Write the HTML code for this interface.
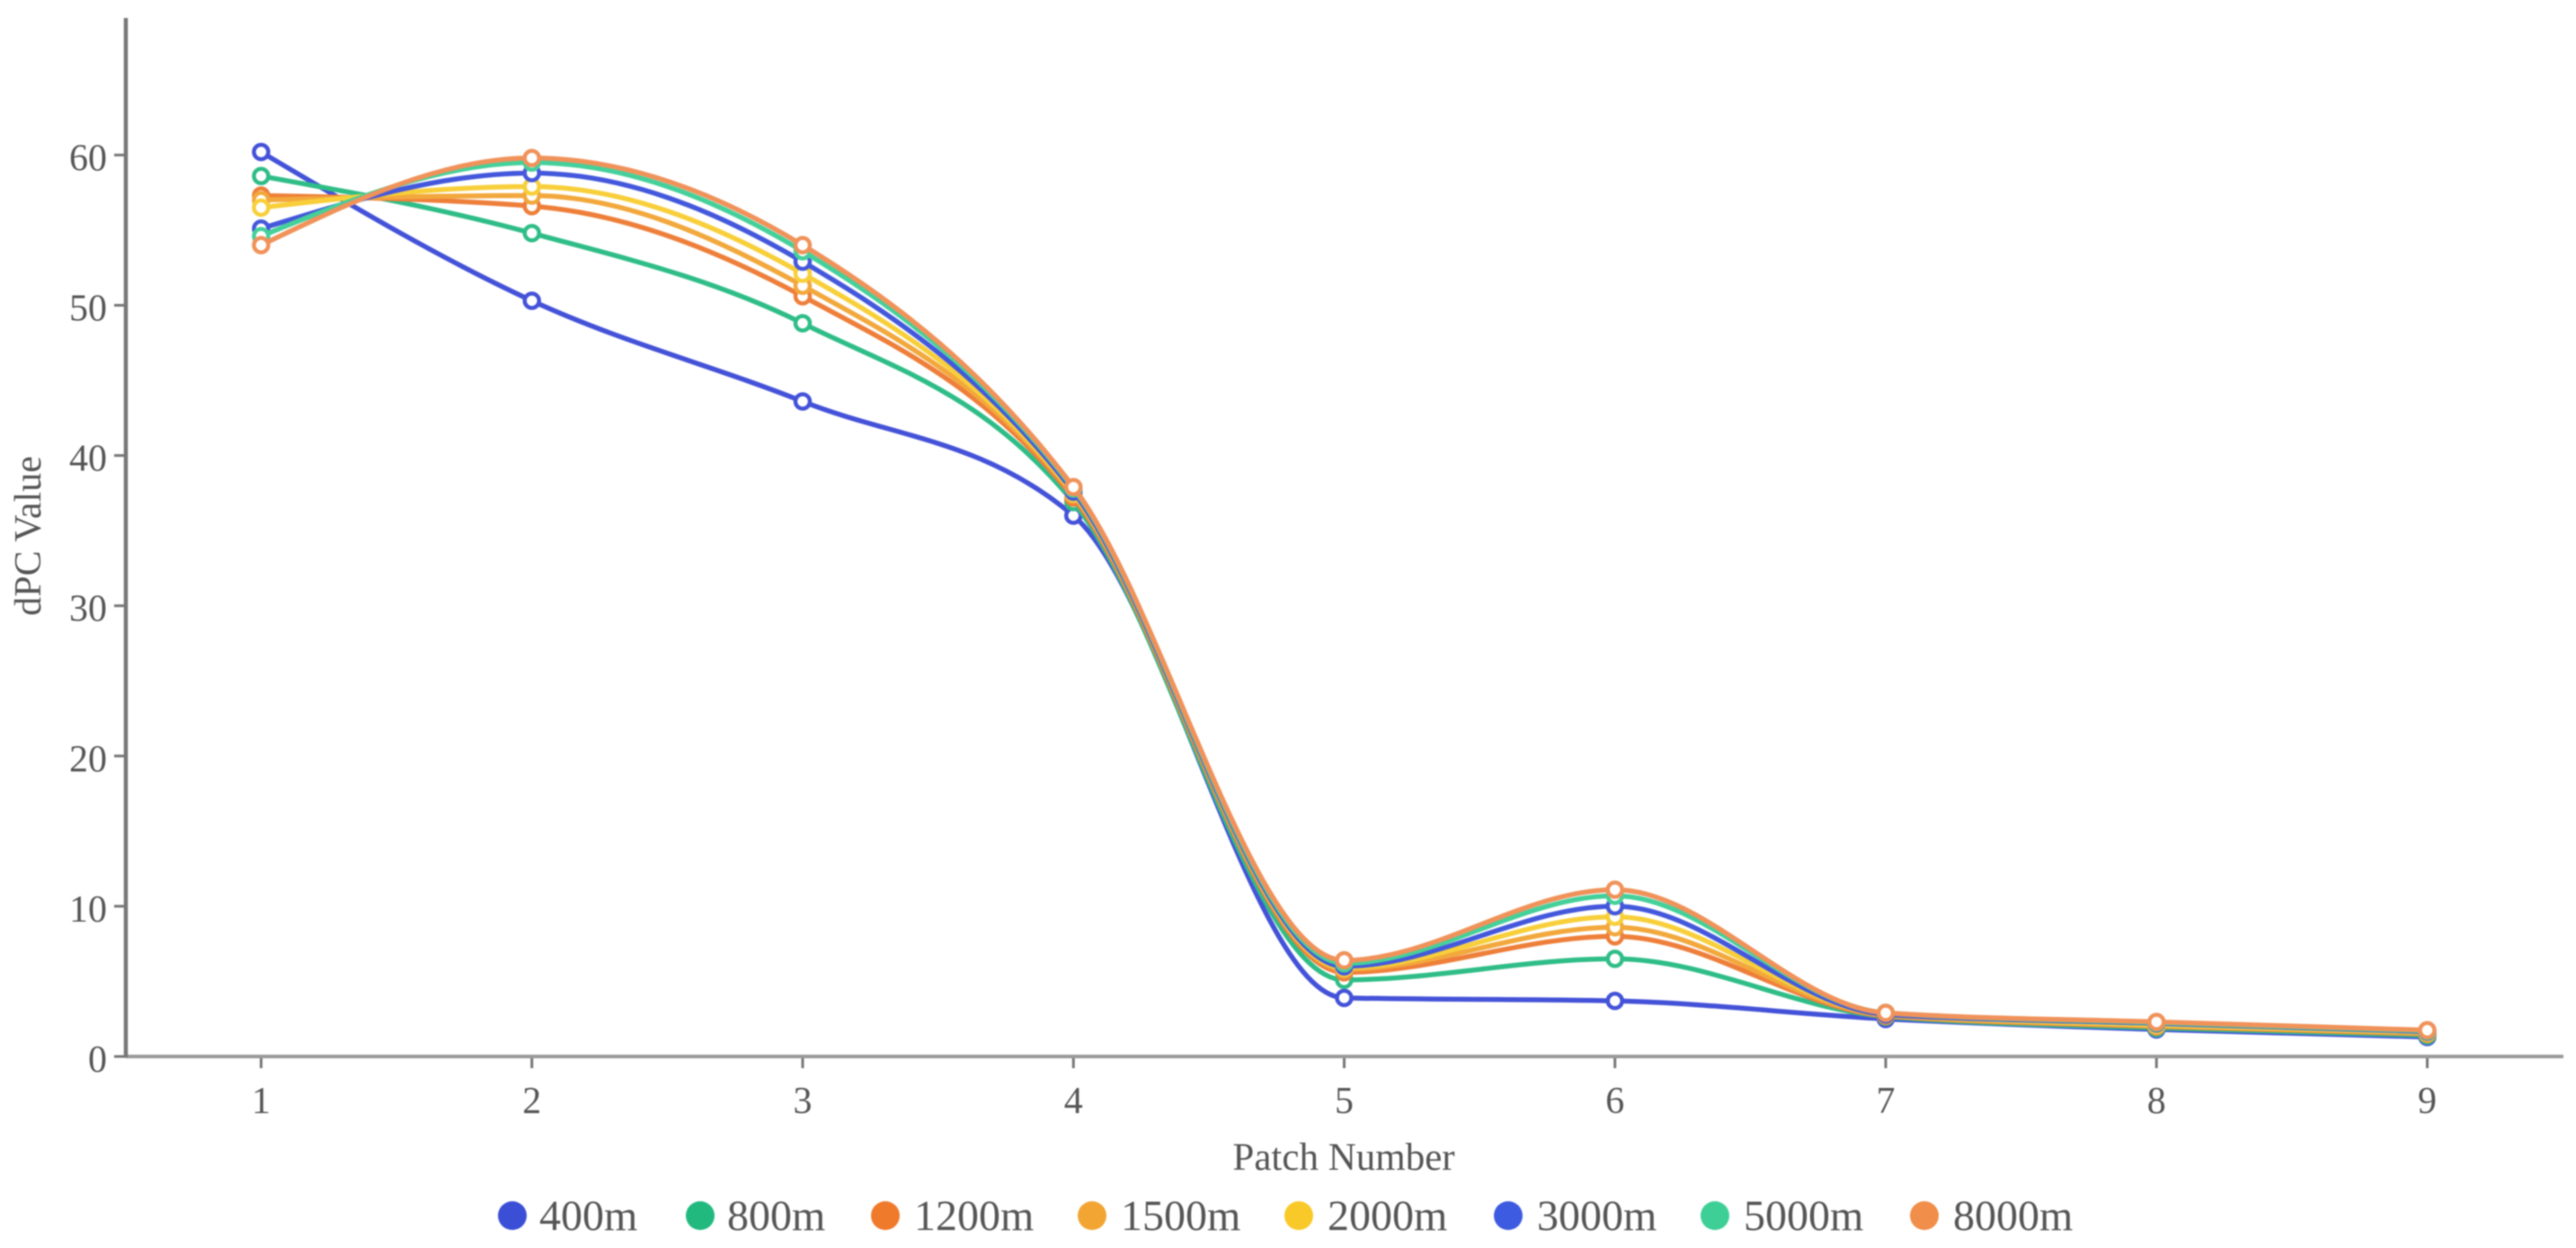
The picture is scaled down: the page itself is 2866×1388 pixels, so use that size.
<!DOCTYPE html>
<html lang="en">
<head>
<meta charset="utf-8">
<title>dPC Value by Patch Number</title>
<style>
  html, body { margin: 0; padding: 0; background: #fff; }
  #chart { display: block; width: 2866px; height: 1388px; filter: blur(0.9px); font-family: "Liberation Serif", serif; }
  text { fill: #555555; }
</style>
</head>
<body>
<svg id="chart" xmlns="http://www.w3.org/2000/svg" width="2866" height="1388" viewBox="0 0 2866 1388">
  <rect x="0" y="0" width="2866" height="1388" fill="#ffffff"/>
  <g id="ticks"></g>
  <line x1="140" y1="1175" x2="2852" y2="1175" stroke="#9a9a9a" stroke-width="4"/>
  <line x1="140" y1="20" x2="140" y2="1176" stroke="#777777" stroke-width="4.5"/>
  <g id="series"></g>
  <text x="1495" y="1301" font-size="43" text-anchor="middle">Patch Number</text>
  <text transform="translate(45,596) rotate(-90)" font-size="42" text-anchor="middle">dPC Value</text>
  <g font-size="48">
    <g><circle cx="570" cy="1352" r="16" fill="#3b4fd6"/><text x="600" y="1368">400m</text></g>
    <g><circle cx="779" cy="1352" r="16" fill="#22b97f"/><text x="809" y="1368">800m</text></g>
    <g><circle cx="985" cy="1352" r="16" fill="#ef7a2c"/><text x="1017" y="1368">1200m</text></g>
    <g><circle cx="1215" cy="1352" r="16" fill="#f2a533"/><text x="1247" y="1368">1500m</text></g>
    <g><circle cx="1445" cy="1352" r="16" fill="#f8c929"/><text x="1477" y="1368">2000m</text></g>
    <g><circle cx="1678" cy="1352" r="16" fill="#3d5be0"/><text x="1710" y="1368">3000m</text></g>
    <g><circle cx="1908" cy="1352" r="16" fill="#3ecf97"/><text x="1940" y="1368">5000m</text></g>
    <g><circle cx="2141" cy="1352" r="16" fill="#f08e4a"/><text x="2173" y="1368">8000m</text></g>
  </g>
</svg>
<script>
const patches = [1, 2, 3, 4, 5, 6, 7, 8, 9];
const yTickLabels = [0, 10, 20, 30, 40, 50, 60];
const seriesNames = ['400m', '800m', '1200m', '1500m', '2000m', '3000m', '5000m', '8000m'];
const seriesColors = ['#4452d8', '#2fbd87', '#ee7f3a', '#f2a83c', '#f8cf3a', '#4458dc', '#45d09a', '#f0925a'];
const values400m  = [60.2, 50.3, 43.6, 36.0, 3.9, 3.7, 2.5, 1.8, 1.3];
const values800m  = [58.6, 54.8, 48.8, 36.9, 5.1, 6.5, 2.65, 1.9, 1.4];
const values1200m = [57.3, 56.6, 50.6, 37.2, 5.6, 8.0, 2.7, 2.0, 1.5];
const values1500m = [57.0, 57.3, 51.3, 37.4, 5.8, 8.6, 2.75, 2.05, 1.55];
const values2000m = [56.5, 57.9, 52.1, 37.5, 5.9, 9.3, 2.8, 2.1, 1.6];
const values3000m = [55.1, 58.8, 52.9, 37.6, 6.0, 10.0, 2.8, 2.2, 1.65];
const values5000m = [54.6, 59.5, 53.6, 37.8, 6.2, 10.7, 2.9, 2.25, 1.7];
const values8000m = [54.0, 59.8, 54.0, 37.9, 6.4, 11.1, 2.9, 2.3, 1.75];
const allSeries = [values400m, values800m, values1200m, values1500m, values2000m, values3000m, values5000m, values8000m];

const SVG_NS = 'http://www.w3.org/2000/svg';
function xScale(p) { return 290.5 + (p - 1) * 301.25; }
function yScale(v) { return 1175 - v * 16.71; }

function sign(v) { return v < 0 ? -1 : 1; }
function monotonePath(pts) {
  const n = pts.length;
  const seg = [];
  for (let i = 0; i < n - 1; i++) {
    seg.push((pts[i + 1][1] - pts[i][1]) / (pts[i + 1][0] - pts[i][0]));
  }
  const tang = new Array(n);
  for (let i = 1; i < n - 1; i++) {
    const h0 = pts[i][0] - pts[i - 1][0];
    const h1 = pts[i + 1][0] - pts[i][0];
    const s0 = seg[i - 1];
    const s1 = seg[i];
    const p = (s0 * h1 + s1 * h0) / (h0 + h1);
    tang[i] = (sign(s0) + sign(s1)) * Math.min(Math.abs(s0), Math.abs(s1), 0.5 * Math.abs(p)) || 0;
  }
  tang[0] = (3 * seg[0] - tang[1]) / 2;
  tang[n - 1] = (3 * seg[n - 2] - tang[n - 2]) / 2;
  let d = 'M' + pts[0][0] + ',' + pts[0][1];
  for (let i = 0; i < n - 1; i++) {
    const dx = (pts[i + 1][0] - pts[i][0]) / 3;
    d += 'C' + (pts[i][0] + dx) + ',' + (pts[i][1] + dx * tang[i]) + ',' +
         (pts[i + 1][0] - dx) + ',' + (pts[i + 1][1] - dx * tang[i + 1]) + ',' +
         pts[i + 1][0] + ',' + pts[i + 1][1];
  }
  return d;
}

const ticksGroup = document.getElementById('ticks');
yTickLabels.forEach(function (v) {
  const tick = document.createElementNS(SVG_NS, 'line');
  
  
  tick.setAttribute('x1', 127);
  tick.setAttribute('x2', 140);
  tick.setAttribute('y1', yScale(v));
  tick.setAttribute('y2', yScale(v));
  tick.setAttribute('stroke', '#777777');
  tick.setAttribute('stroke-width', 3);
  ticksGroup.appendChild(tick);
  const label = document.createElementNS(SVG_NS, 'text');
  
  
  label.setAttribute('x', 119);
  label.setAttribute('y', yScale(v) + 17);
  label.setAttribute('font-size', 42);
  label.setAttribute('text-anchor', 'end');
  label.textContent = v;
  ticksGroup.appendChild(label);
});
patches.forEach(function (p) {
  const tick = document.createElementNS(SVG_NS, 'line');
  
  
  tick.setAttribute('x1', xScale(p));
  tick.setAttribute('x2', xScale(p));
  tick.setAttribute('y1', 1175);
  tick.setAttribute('y2', 1188);
  tick.setAttribute('stroke', '#777777');
  tick.setAttribute('stroke-width', 3);
  ticksGroup.appendChild(tick);
  const label = document.createElementNS(SVG_NS, 'text');
  
  
  label.setAttribute('x', xScale(p));
  label.setAttribute('y', 1238);
  label.setAttribute('font-size', 42);
  label.setAttribute('text-anchor', 'middle');
  label.textContent = p;
  ticksGroup.appendChild(label);
});

const seriesGroup = document.getElementById('series');
allSeries.forEach(function (vals, s) {
  const pts = vals.map(function (v, i) { return [xScale(patches[i]), yScale(v)]; });
  const g = document.createElementNS(SVG_NS, 'g');
  
  
  const path = document.createElementNS(SVG_NS, 'path');
  
  
  path.setAttribute('d', monotonePath(pts));
  path.setAttribute('fill', 'none');
  path.setAttribute('stroke', seriesColors[s]);
  path.setAttribute('stroke-width', 5.5);
  g.appendChild(path);
  pts.forEach(function (pt) {
    const dot = document.createElementNS(SVG_NS, 'circle');
    
    
    dot.setAttribute('cx', pt[0]);
    dot.setAttribute('cy', pt[1]);
    dot.setAttribute('r', 8);
    dot.setAttribute('fill', '#ffffff');
    dot.setAttribute('stroke', seriesColors[s]);
    dot.setAttribute('stroke-width', 4.5);
    g.appendChild(dot);
  });
  seriesGroup.appendChild(g);
});
</script>
</body>
</html>
